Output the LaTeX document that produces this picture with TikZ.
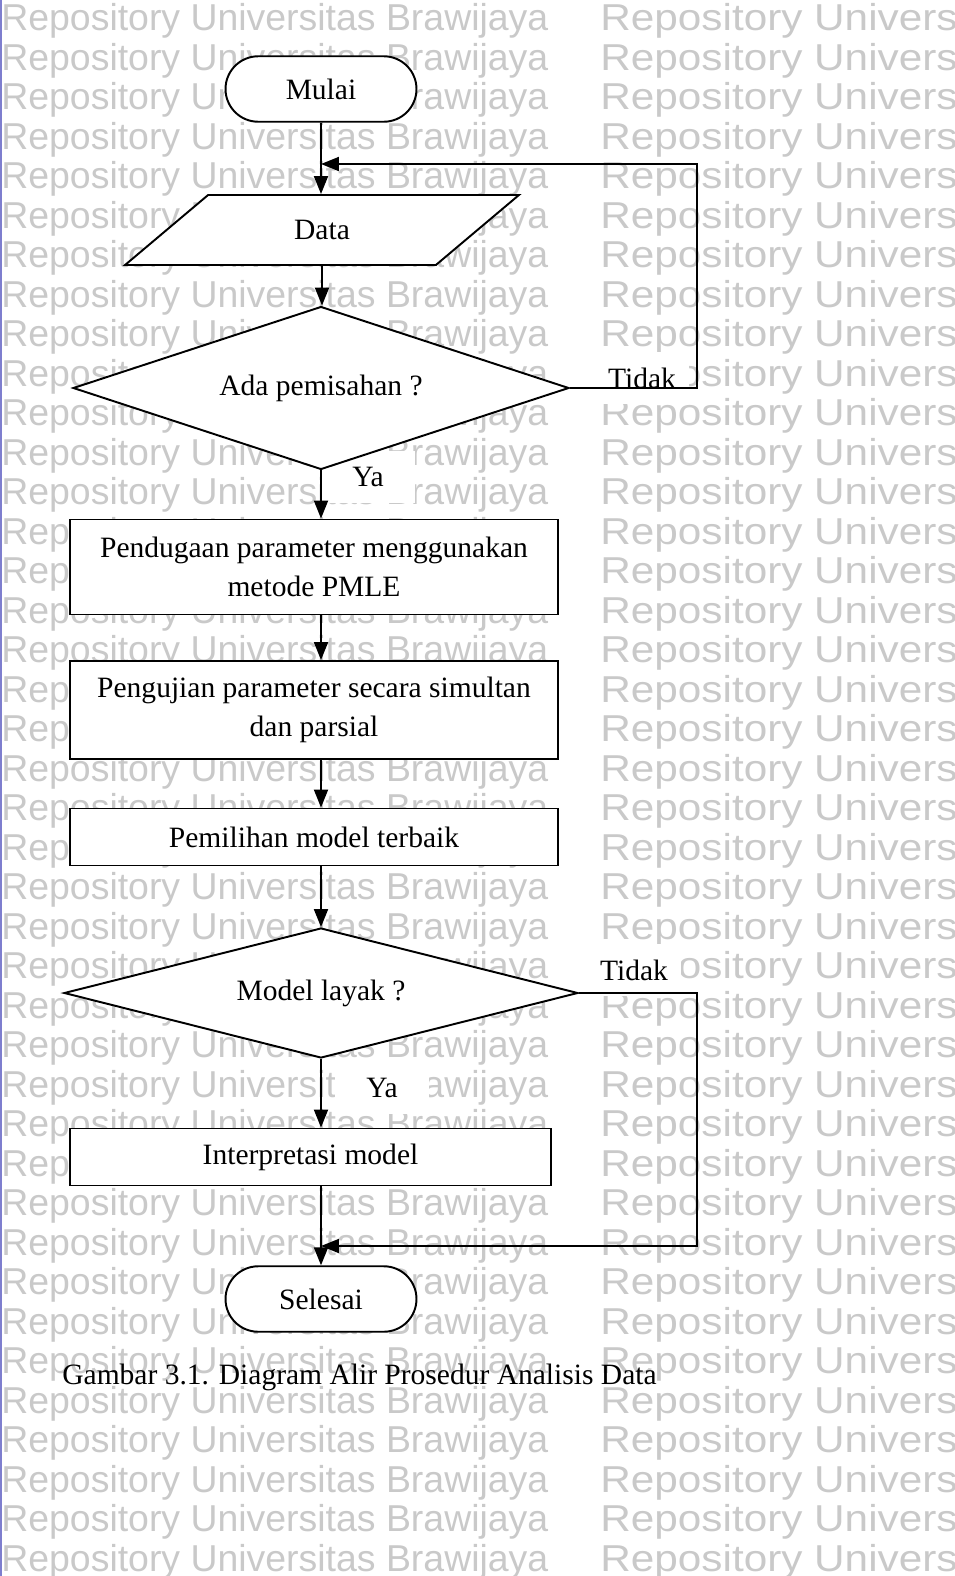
\documentclass[tikz,border=0pt]{standalone}
\usepackage{fontspec}
\setmainfont{Liberation Serif}
\newfontfamily\wmfont{Liberation Sans}
\usetikzlibrary{shapes,arrows.meta}
\newcommand{\flowsize}{\fontsize{16.8pt}{22.5pt}\selectfont}
\newcommand{\marksize}{\wmfont\fontsize{21.3pt}{21.3pt}\selectfont}

\begin{document}
\begin{tikzpicture}[x=0.02cm, y=-0.02cm,
  wmark/.style={anchor=base west, inner sep=0pt, text=black!21, font=\marksize},
  terminal/.style={draw, fill=white, rounded rectangle, line width=1.1pt, minimum width=3.82cm, minimum height=1.31cm, font=\flowsize, inner sep=0pt},
  iobox/.style={draw, fill=white, trapezium, trapezium left angle=44, trapezium right angle=136, trapezium stretches=true, line width=1.1pt, minimum width=7.9cm, minimum height=1.4cm, font=\flowsize, inner sep=0pt},
  choice/.style={draw, fill=white, diamond, aspect=3.5, line width=1.1pt, font=\flowsize, inner sep=0pt},
  process/.style={draw, fill=white, rectangle, line width=1.1pt, minimum width=9.76cm, align=center, font=\flowsize, inner sep=0pt},
  answer/.style={fill=white, font=\flowsize, inner sep=0pt, minimum width=1.9cm, minimum height=1.05cm},
  arr/.style={line width=1.1pt, -{Triangle[length=0.36cm,width=0.28cm]}}
  ]
  \useasboundingbox (0,0) rectangle (955,1576);

  % watermark
  \foreach \k in {0,...,39}{
    \node[wmark] (wmL\k) at (1,{30.5+39.5*\k}) {Repository Universitas Brawijaya};
    \node[wmark, xscale=1.13] (wmR\k) at (600,{30.5+39.5*\k}) {Repository Universitas Brawijaya};
  }
  \draw[blue!45!gray!70, line width=1.5pt] (1,0) -- (1,1576);

  \node[answer] (tidak1) at (642,378) {Tidak};
  \node[answer] (ya1) at (368,477) {Ya};
  \node[answer] (tidak2) at (634,970) {Tidak};
  \node[answer] (ya2) at (382,1088) {Ya};

  \node[terminal] (mulai) at (321,89) {Mulai};
  \node[iobox] (data) at (322,230) {Data};
  \node[choice, minimum width=9.92cm, minimum height=3.26cm] (pisah) at (321,388) {Ada pemisahan ?};
  \node[process, minimum height=1.9cm] (duga) at (314,567) {Pendugaan parameter menggunakan\\metode PMLE};
  \node[process, minimum height=1.96cm] (uji) at (314,710) {Pengujian parameter secara simultan\\dan parsial};
  \node[process, minimum height=1.14cm] (pilih) at (314,837) {Pemilihan model terbaik};
  \node[choice, minimum width=10.28cm, minimum height=2.6cm] (layak) at (321,993) {Model layak ?};
  \node[process, minimum width=9.62cm, minimum height=1.14cm] (tafsir) at (310.5,1157) {Interpretasi model};
  \node[terminal] (selesai) at (321,1299) {Selesai};
  \node[anchor=west, font=\flowsize, inner sep=0pt] (judul) at (62,1377) {Gambar 3.1. Diagram Alir Prosedur Analisis Data};

  \coordinate (masuk1) at (321,164);
  \coordinate (belok1) at (697,164);
  \coordinate (masuk2) at (321,1246);
  \coordinate (belok2) at (697,1246);

  \draw[arr] (mulai.south) -- (mulai.south |- data.north);
  \draw[arr] (pisah.east) -- (pisah.east -| belok1) -- (belok1) -- (masuk1);
  \draw[arr] (data.south) -- (data.south |- pisah.north);
  \draw[arr] (pisah.south) -- (pisah.south |- duga.north);
  \draw[arr] (pisah.south |- duga.south) -- (pisah.south |- uji.north);
  \draw[arr] (pisah.south |- uji.south) -- (pisah.south |- pilih.north);
  \draw[arr] (pisah.south |- pilih.south) -- (layak.north);
  \draw[arr] (layak.south) -- (layak.south |- tafsir.north);
  \draw[arr] (layak.south |- tafsir.south) -- (selesai.north);
  \draw[arr] (layak.east) -- (layak.east -| belok2) -- (belok2) -- (masuk2);
\end{tikzpicture}
\end{document}
